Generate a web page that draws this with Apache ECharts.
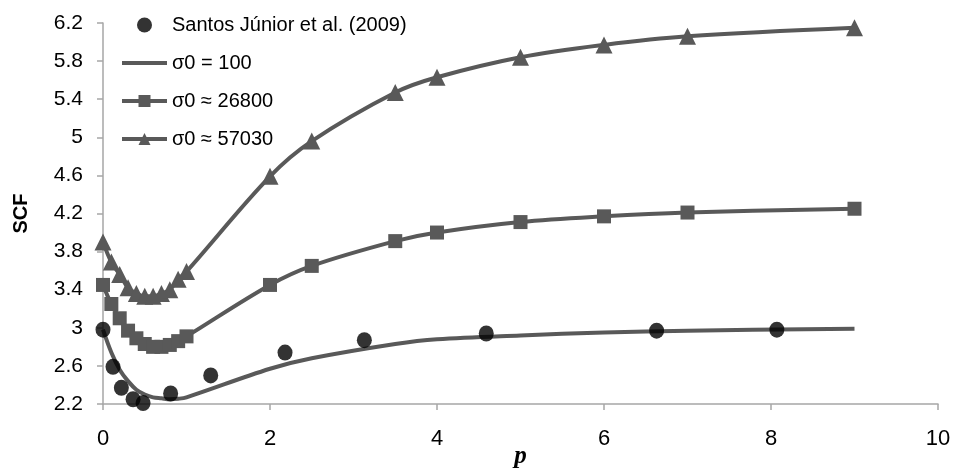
<!DOCTYPE html>
<html>
<head>
<meta charset="utf-8">
<script src="https://cdn.jsdelivr.net/npm/echarts@6/dist/echarts.min.js"></script>
<style>
  html, body { margin: 0; padding: 0; background: #fff; }
  #chart { width: 956px; height: 468px; }
</style>
</head>
<body>
<div id="chart"></div>
<script>
// Stress concentration factor (SCF) versus p
const seriesNames = ['Santos Júnior et al. (2009)', 'σ0 = 100', 'σ0 ≈ 26800', 'σ0 ≈ 57030'];

// Experimental points (Santos Júnior et al., 2009)
const expP   = [0, 0.12, 0.22, 0.36, 0.48, 0.81, 1.29, 2.18, 3.13, 4.59, 6.63, 8.07];
const expSCF = [2.98, 2.59, 2.37, 2.25, 2.21, 2.31, 2.50, 2.74, 2.87, 2.94, 2.97, 2.98];

// Model curves share the same p grid
const modelP      = [0, 0.1, 0.2, 0.3, 0.4, 0.5, 0.6, 0.7, 0.8, 0.9, 1.0, 2, 2.5, 3.5, 4, 5, 6, 7, 9];
const scf100      = [2.98, 2.74, 2.56, 2.44, 2.35, 2.30, 2.27, 2.26, 2.25, 2.255, 2.27, 2.57, 2.68, 2.83, 2.88, 2.92, 2.95, 2.97, 2.99];
const scf26800    = [3.45, 3.25, 3.10, 2.97, 2.89, 2.83, 2.80, 2.80, 2.82, 2.86, 2.91, 3.45, 3.65, 3.91, 4.00, 4.11, 4.17, 4.21, 4.25];
const scf57030    = [3.90, 3.69, 3.56, 3.42, 3.36, 3.33, 3.33, 3.36, 3.40, 3.51, 3.59, 4.59, 4.96, 5.47, 5.63, 5.84, 5.97, 6.06, 6.15];

const xTicks = { min: 0, max: 10, step: 2 };
const yTicks = { min: 2.2, max: 6.2, step: 0.4 };

const pair = (xs, ys) => xs.map((x, i) => [x, ys[i]]);

const lineColor = '#595959';
const axisColor = '#a6a6a6';
const sansFont = '"Liberation Sans", Arial, sans-serif';

const chart = echarts.init(document.getElementById('chart'), null, { renderer: 'canvas' });

const lineSeries = (name, values, symbol, size) => ({
  name: name,
  type: 'line',
  data: pair(modelP, values),
  smooth: 0.35,
  symbol: symbol,
  symbolSize: size,
  showSymbol: symbol !== 'none',
  lineStyle: { color: lineColor, width: 4 },
  itemStyle: { color: lineColor },
  z: 2
});

chart.setOption({
  animation: false,
  backgroundColor: '#fff',
  grid: { left: 103, right: 18, top: 23, bottom: 64, containLabel: false, outerBoundsMode: 'none' },
  legend: {
    orient: 'vertical',
    left: 120,
    top: 15,
    padding: 0,
    itemWidth: 45,
    itemHeight: 15,
    itemGap: 18,
    lineStyle: { width: 4, color: lineColor },
    textStyle: { fontFamily: sansFont, fontSize: 20, color: '#000', lineHeight: 20 },
    data: [
      { name: seriesNames[0] },
      { name: seriesNames[1], itemStyle: { opacity: 0 } },
      { name: seriesNames[2] },
      { name: seriesNames[3] }
    ]
  },
  xAxis: {
    type: 'value',
    min: xTicks.min,
    max: xTicks.max,
    interval: xTicks.step,
    name: 'p',
    nameLocation: 'middle',
    nameGap: 40,
    nameMoveOverlap: false,
    nameTextStyle: { fontFamily: '"Liberation Serif", "Times New Roman", serif', fontStyle: 'italic', fontWeight: 'bold', fontSize: 25, color: '#000' },
    axisLine: { show: true, lineStyle: { color: axisColor, width: 1.5 } },
    axisTick: { show: true, inside: false, length: 6, lineStyle: { color: axisColor, width: 1.5 } },
    axisLabel: { margin: 24, fontFamily: '"Liberation Sans Narrow", "Liberation Sans", Arial, sans-serif', fontSize: 22, color: '#000' },
    splitLine: { show: false }
  },
  yAxis: {
    type: 'value',
    min: yTicks.min,
    max: yTicks.max,
    interval: yTicks.step,
    name: 'SCF',
    nameLocation: 'middle',
    nameGap: 72,
    nameMoveOverlap: false,
    nameRotate: 90,
    nameTextStyle: { fontFamily: sansFont, fontWeight: 'bold', fontSize: 20, color: '#000' },
    axisLine: { show: true, lineStyle: { color: axisColor, width: 1.5 } },
    axisTick: { show: true, inside: false, length: 6, lineStyle: { color: axisColor, width: 1.5 } },
    axisLabel: {
      margin: 20,
      fontFamily: sansFont,
      fontSize: 21,
      color: '#000',
      formatter: v => String(parseFloat(v.toFixed(1)))
    },
    splitLine: { show: false }
  },
  series: [
    {
      name: seriesNames[0],
      type: 'scatter',
      data: pair(expP, expSCF),
      symbol: 'circle',
      symbolSize: [15, 16],
      itemStyle: { color: '#000' },
      z: 5
    },
    lineSeries(seriesNames[1], scf100, 'none', 0),
    lineSeries(seriesNames[2], scf26800, 'rect', 14),
    lineSeries(seriesNames[3], scf57030, 'triangle', 17)
  ]
});
</script>
</body>
</html>
